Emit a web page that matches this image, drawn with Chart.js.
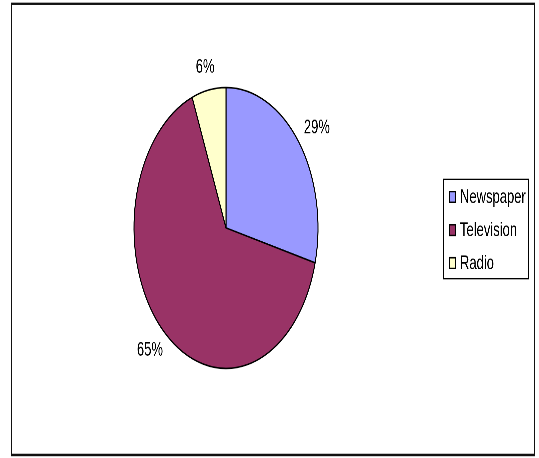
<!DOCTYPE html>
<html>
<head>
<meta charset="utf-8">
<script src="https://cdn.jsdelivr.net/npm/chart.js@4.4.0/dist/chart.umd.min.js"></script>
<style>
  html, body { margin: 0; padding: 0; background: #fff; }
  body { width: 539px; height: 458px; }
  /* the reference is a stretched picture: draw at 300px tall, stretch to 458 */
  #wrap { width: 539px; height: 300px; transform: scaleY(1.5267); transform-origin: 0 0; }
</style>
</head>
<body>
<div id="wrap"><canvas id="chart" width="539" height="300"></canvas></div>
<script>
const labels = ['Newspaper', 'Television', 'Radio'];
const shares = [29, 65, 6];
const colors = ['#9999FF', '#993366', '#FFFFCC'];

const FONT = '13px "Liberation Sans", Arial, sans-serif';

const sheet = {
  id: 'sheet',
  beforeDraw(chart) {
    const ctx = chart.ctx;
    ctx.save();
    ctx.fillStyle = '#fff';
    ctx.fillRect(0, 0, chart.width, chart.height);
    ctx.restore();
  },
  afterDraw(chart) {
    const ctx = chart.ctx;
    ctx.save();

    // outer frame
    ctx.strokeStyle = '#111';
    ctx.lineWidth = 1.6;
    ctx.strokeRect(11.5, 2.5, 523, 295.5);

    // percentage labels outside the slices
    ctx.font = FONT;
    ctx.fillStyle = '#000';
    ctx.textAlign = 'center';
    ctx.textBaseline = 'middle';
    chart.getDatasetMeta(0).data.forEach((arc, i) => {
      const p = arc.getProps(['x', 'y', 'startAngle', 'endAngle', 'outerRadius'], true);
      const mid = (p.startAngle + p.endAngle) / 2;
      const dx = Math.cos(mid), dy = Math.sin(mid);
      const txt = shares[i] + '%';
      const w = ctx.measureText(txt).width, h = 10, gap = 10;
      ctx.fillText(txt,
        p.x + dx * (p.outerRadius + gap) + dx * w / 2,
        p.y + dy * (p.outerRadius + gap) + dy * h / 2);
    });

    // legend box
    ctx.strokeStyle = '#000';
    ctx.lineWidth = 1;
    ctx.strokeRect(443.5, 117.5, 85, 65);
    ctx.textAlign = 'left';
    const rows = [129, 150.7, 172.3];
    labels.forEach((name, i) => {
      ctx.fillStyle = colors[i];
      ctx.fillRect(449, rows[i] - 4, 7, 8);
      ctx.strokeRect(449.5, rows[i] - 3.5, 6, 7);
      ctx.fillStyle = '#000';
      ctx.fillText(name, 460, rows[i] + 0.5);
    });

    ctx.restore();
  }
};

new Chart(document.getElementById('chart'), {
  type: 'pie',
  data: {
    labels: labels,
    datasets: [{
      data: shares,
      backgroundColor: colors,
      borderColor: '#000',
      borderWidth: 1,
      radius: 92
    }]
  },
  options: {
    responsive: false,
    devicePixelRatio: 3,
    animation: false,
    events: [],
    layout: { padding: { left: 134, right: 221, top: 57.3, bottom: 58.7 } },
    plugins: { legend: { display: false }, tooltip: { enabled: false } }
  },
  plugins: [sheet]
});
</script>
</body>
</html>
